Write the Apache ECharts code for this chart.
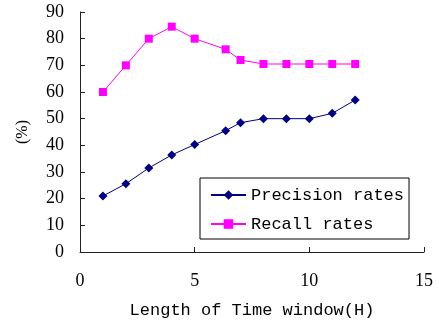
<!DOCTYPE html>
<html>
<head>
<meta charset="utf-8">
<script src="https://cdn.jsdelivr.net/npm/echarts@6/dist/echarts.min.js"></script>
<style>
  html, body { margin: 0; padding: 0; background: #fff; }
  #chart { width: 439px; height: 324px; }
</style>
</head>
<body>
<div id="chart"></div>
<script>
// time window lengths (H)
var windowHours = [1, 2, 3, 4, 5, 6.35, 7, 8, 9, 10, 11, 12]
var precisionRates = [21, 25.6, 31.5, 36.4, 40.3, 45.5, 48.5, 50, 50, 50, 52, 57]
var recallRates = [60, 70, 80, 84.5, 80, 76, 72, 70.5, 70.5, 70.5, 70.5, 70.5]

function pairs(xs, ys) {
  return xs.map(function (x, i) { return [x, ys[i]] })
}

var chart = echarts.init(document.getElementById('chart'))
var numFont = { fontFamily: 'Liberation Serif', fontSize: 18, color: '#000' }

chart.setOption({
  animation: false,
  grid: { left: 80, right: 15, top: 12, bottom: 72 },
  legend: {
    orient: 'vertical',
    left: 200,
    top: 178,
    padding: [7, 5, 5, 10],
    itemGap: 9,
    itemWidth: 35,
    itemHeight: 12,
    borderColor: '#000',
    borderWidth: 1,
    textStyle: { fontFamily: 'Liberation Mono', fontSize: 17, color: '#000', lineHeight: 20 },
    data: ['Precision rates', 'Recall rates']
  },
  xAxis: {
    type: 'value',
    min: 0,
    max: 15,
    interval: 5,
    name: 'Length of Time window(H)',
    nameLocation: 'middle',
    nameGap: 50,
    nameTextStyle: { fontFamily: 'Liberation Mono', fontSize: 17, color: '#000' },
    axisLine: { lineStyle: { color: '#222', width: 1 } },
    axisTick: { inside: true, length: 5, lineStyle: { color: '#222' } },
    axisLabel: Object.assign({ margin: 20 }, numFont),
    splitLine: { show: false }
  },
  yAxis: {
    type: 'value',
    min: 0,
    max: 90,
    interval: 10,
    name: '(%)',
    nameLocation: 'middle',
    nameGap: 49,
    nameTextStyle: { fontFamily: 'Liberation Serif', fontSize: 16, color: '#000' },
    axisLine: { show: true, lineStyle: { color: '#222', width: 1 } },
    axisTick: { show: true, inside: true, length: 5, lineStyle: { color: '#222' } },
    axisLabel: Object.assign({ margin: 16 }, numFont),
    splitLine: { show: false }
  },
  series: [
    {
      name: 'Precision rates',
      type: 'line',
      data: pairs(windowHours, precisionRates),
      symbol: 'diamond',
      symbolSize: 9,
      lineStyle: { color: '#000080', width: 1 },
      itemStyle: { color: '#000080' }
    },
    {
      name: 'Recall rates',
      type: 'line',
      data: pairs(windowHours, recallRates),
      symbol: 'rect',
      symbolSize: 8,
      lineStyle: { color: '#ff00ff', width: 1 },
      itemStyle: { color: '#ff00ff' }
    }
  ]
})
</script>
</body>
</html>
